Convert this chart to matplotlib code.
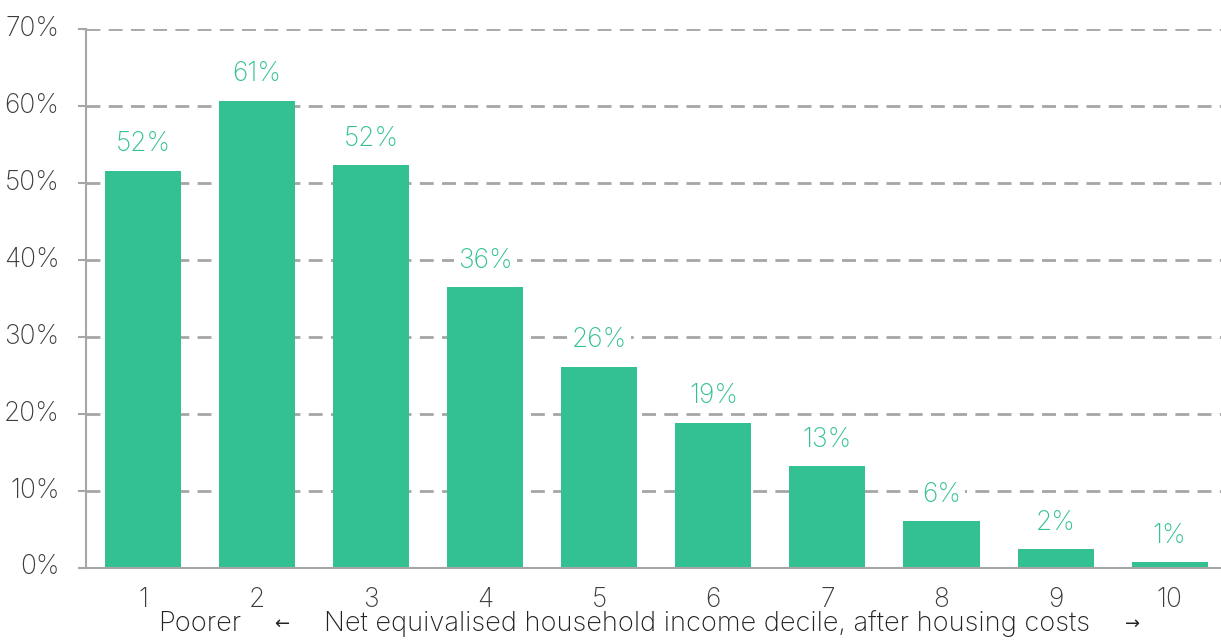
import matplotlib
matplotlib.use("Agg")
import matplotlib.pyplot as plt
import matplotlib.transforms as mtransforms
from matplotlib.ticker import FuncFormatter

deciles = ["1", "2", "3", "4", "5", "6", "7", "8", "9", "10"]
shares = [51.6, 60.7, 52.3, 36.4, 26.1, 18.8, 13.2, 6.0, 2.4, 0.7]
y_ticks = [0, 10, 20, 30, 40, 50, 60, 70]
axis_title = "Net equivalised household income decile, after housing costs"
left_note = "Poorer"

BAR = "#33C193"
GRID = "#A6A6A6"
TEXT = "#3C3C3C"
FONT = ["Inter", "DejaVu Sans"]
plt.rcParams["font.family"] = FONT
WEIGHT = "light"
SIZE = 19
TITLE_SIZE = 19.6

W, H, DPI = 1221, 641, 100
fig = plt.figure(figsize=(W / DPI, H / DPI), dpi=DPI)
ax = fig.add_axes([86 / W, (H - 567.5) / H, (W - 86) / W, (567.5 - 29) / H])

x = list(range(1, len(deciles) + 1))
ax.bar(x, shares, width=0.667, color=BAR, zorder=2)

for xi, v in zip(x, shares):
    ax.annotate(f"{v:.0f}%", (xi, v), xytext=(0, 19), textcoords="offset points",
                ha="center", va="center", fontsize=SIZE, color=BAR,
                fontweight=WEIGHT, zorder=4,
                bbox=dict(boxstyle="square,pad=0.15", fc="white", ec="none"))

ax.set_xlim(0.5, 10.45)
ax.set_ylim(0, 70)
ax.set_yticks(y_ticks)
ax.yaxis.set_major_formatter(FuncFormatter(lambda v, _: f"{v:.0f}%"))
ax.set_xticks(x)
ax.set_xticklabels(deciles)

for t in y_ticks[1:]:
    ax.axhline(t, color=GRID, lw=2, ls=(0, (5, 3)), zorder=1)

for s in ["top", "right"]:
    ax.spines[s].set_visible(False)
for s in ["left", "bottom"]:
    ax.spines[s].set_color(GRID)
    ax.spines[s].set_linewidth(1.5)

ax.tick_params(axis="y", length=6, width=1.5, color=GRID, pad=13,
               labelsize=SIZE, labelcolor=TEXT)
ax.tick_params(axis="x", length=0, pad=14, labelsize=SIZE, labelcolor=TEXT)
lift = mtransforms.ScaledTranslation(0, 3 / DPI, fig.dpi_scale_trans)
for lab in ax.get_yticklabels():
    lab.set_fontweight(WEIGHT)
    lab.set_transform(lab.get_transform() + lift)
for lab in ax.get_xticklabels():
    lab.set_fontweight(WEIGHT)

ty = 1 - 624 / H
fig.text(200 / W, ty, left_note, ha="center", va="center", fontsize=TITLE_SIZE,
         color="#222222", fontweight=WEIGHT)
fig.text(282 / W, ty, "\u2190", ha="center", va="center", fontsize=13,
         color="#222222", family=["DejaVu Sans"])
fig.text(707 / W, ty, axis_title, ha="center", va="center", fontsize=TITLE_SIZE,
         color="#222222", fontweight=WEIGHT)
fig.text(1133 / W, ty, "\u2192", ha="center", va="center", fontsize=13,
         color="#222222", family=["DejaVu Sans"])

fig.savefig("out.png", dpi=DPI)
